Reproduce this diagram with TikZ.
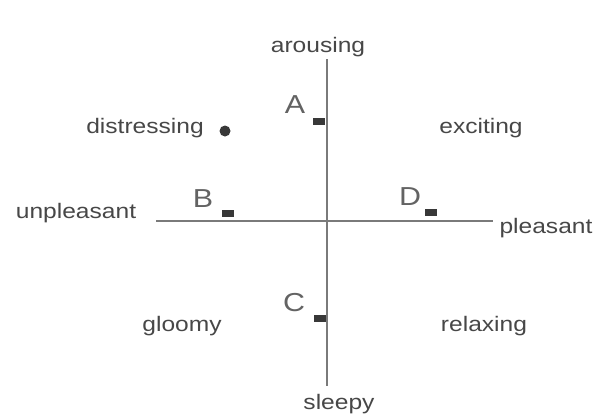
\documentclass[tikz,border=0pt]{standalone}
\usepackage{fontspec}
\usepackage{tikz}
\newfontfamily\lblfont[FakeStretch=1.17]{Liberation Sans}
\definecolor{ink}{HTML}{474747}
\definecolor{axis}{HTML}{7A7A7A}
\definecolor{dark}{HTML}{383838}
\tikzset{word/.style={anchor=base,inner sep=0pt,text=ink,font=\lblfont\fontsize{21}{23}\selectfont},letter/.style={word,text=ink!85,font=\lblfont\fontsize{26}{28}\selectfont},stim/.style={draw=none,fill=dark,minimum width=12pt,minimum height=7pt,inner sep=0pt},dot/.style={circle,fill=dark,minimum size=11pt,inner sep=0pt},ax/.style={draw=axis,line width=1.6pt}}
\begin{document}
\begin{tikzpicture}[x=1pt,y=-1pt]
\useasboundingbox (0,0) rectangle (600,416);
\coordinate (top) at (327,59);\coordinate (bot) at (327,386);
\coordinate (lft) at (156,221);\coordinate (rgt) at (493,221);
\draw[ax] (top)--(bot);\draw[ax] (lft)--(rgt);
% pole labels
\node[word] (arousing) at (318,52) {arousing};
\node[word] (sleepy) at (339,409) {sleepy};
\node[word] (unpleasant) at (76,218) {unpleasant};
\node[word] (pleasant) at (546,233) {pleasant};
% quadrant labels
\node[word] (distressing) at (145,133) {distressing};
\node[dot] (ddot) at (225,131) {};
\node[word] (exciting) at (481,133) {exciting};
\node[word] (gloomy) at (182,331) {gloomy};
\node[word] (relaxing) at (484,331) {relaxing};
% stimuli
\node[stim] (ma) at (319,121) {};\node[letter] (la) at (295,113) {A};
\node[stim] (mb) at (228,213) {};\node[letter] (lb) at (203,207) {B};
\node[stim] (mc) at (320,318) {};\node[letter] (lc) at (294,311) {C};
\node[stim] (md) at (431,212) {};\node[letter] (ld) at (410,205) {D};
\end{tikzpicture}
\end{document}
